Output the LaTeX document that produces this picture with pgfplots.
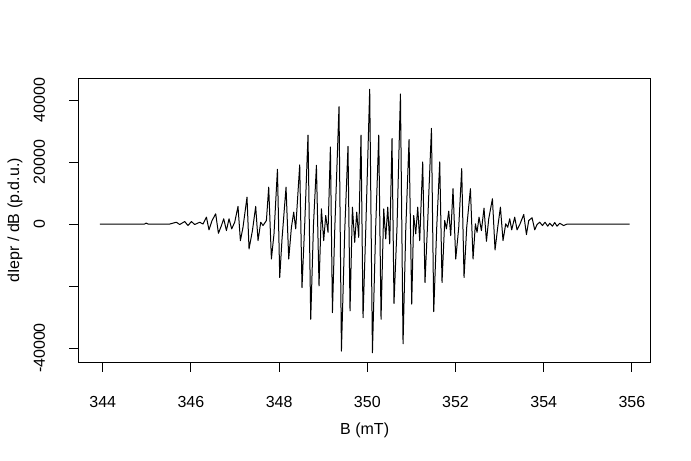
\documentclass[border=0pt]{standalone}
\usepackage{fontspec}
\setmainfont{Liberation Sans}
\usepackage{pgfplots}
\pgfplotsset{compat=1.18}
\begin{document}
\begin{tikzpicture}[font=\fontsize{12pt}{14pt}\selectfont]
\path[use as bounding box] (0,0) rectangle (518.25pt,345pt);
\begin{axis}[
  at={(59pt,73.4pt)}, anchor=south west,
  scale only axis, width=429pt, height=212.55pt,
  xmin=343.455, xmax=356.425, ymin=-44550, ymax=46874,
  axis line style={line width=0.75pt},
  xtick={344,346,...,356}, xticklabels={344,346,348,350,352,354,356},
  ytick={-40000,-20000,0,20000,40000}, yticklabels={-40000,,0,20000,40000},
  scaled ticks=false,
  tick align=outside, tick pos=left,
  major tick length=7.2pt,
  tick style={line width=0.75pt, black},
  tick label style={font=\fontsize{12pt}{14pt}\selectfont},
  label style={font=\fontsize{12pt}{14pt}\selectfont},
  xticklabel style={anchor=center, yshift=-22.4pt, inner sep=0pt},
  yticklabel style={anchor=center, xshift=-22.3pt, rotate=90, inner sep=0pt},
  xlabel={B (mT)}, ylabel={dIepr / dB (p.d.u.)},
  every axis x label/.style={at={(rel axis cs:0.5,0)}, anchor=center, yshift=-51pt},
  every axis y label/.style={at={(rel axis cs:0,0.5)}, xshift=-47.8pt, rotate=90, anchor=center},
]
\addplot[black, line width=0.75pt, line join=round, mark=none] coordinates {
(343.935,0) (344.500,0) (344.950,0) (344.986,320) (345.030,0) (345.400,0)
(345.519,0) (345.671,580) (345.746,-160) (345.859,810) (345.934,-490)
(346.011,810) (346.086,-160) (346.200,580) (346.274,0) (346.352,2200)
(346.410,-1880) (346.479,1130) (346.562,3300) (346.624,-2980) (346.692,-490)
(346.744,1690) (346.805,-2110) (346.864,1690) (346.925,-1560) (346.993,580)
(347.068,5670) (347.122,-5350) (347.181,-1040) (347.272,8680) (347.318,-8040)
(347.395,-2110) (347.469,5670) (347.522,-5350) (347.583,580) (347.635,-490)
(347.712,1130) (347.764,11920) (347.825,-11280) (347.884,-3180) (347.962,17660)
(348.014,-17240) (348.066,-4800) (348.157,11920) (348.218,-11280) (348.279,-1040)
(348.331,3820) (348.376,-1560) (348.467,19100) (348.519,-20480) (348.581,70)
(348.655,28670) (348.717,-30720) (348.780,0) (348.846,18950) (348.905,-19930)
(348.959,4910) (349.011,-5350) (349.057,2750) (349.109,-2660) (349.163,24880)
(349.209,-28580) (349.261,-2110) (349.358,37840) (349.413,-40990) (349.488,-2110)
(349.562,25080) (349.608,-28030) (349.662,5440) (349.714,-5900) (349.760,3820)
(349.805,-4280) (349.857,28670) (349.903,-30230) (349.964,-2110) (350.054,43480)
(350.116,-41540) (350.190,-1040) (350.259,28670) (350.311,-30720) (350.372,4910)
(350.417,-4800) (350.463,5440) (350.508,-6420) (350.560,27590) (350.605,-25630)
(350.673,-1040) (350.751,41960) (350.810,-38620) (350.871,-2110) (350.946,27270)
(351.007,-25860) (351.052,2750) (351.098,-3180) (351.143,5440) (351.188,-5350)
(351.256,20020) (351.308,-18860) (351.370,1130) (351.454,30840) (351.506,-28250)
(351.574,-1040) (351.642,20020) (351.694,-18860) (351.755,1130) (351.794,-1560)
(351.846,4180) (351.891,-3730) (351.943,11400) (352.005,-11280) (352.073,-1040)
(352.140,17880) (352.193,-17240) (352.254,-1040) (352.338,11400) (352.397,-11280)
(352.451,70) (352.488,-2660) (352.533,2200) (352.587,-2110) (352.646,5120)
(352.701,-5570) (352.753,1690) (352.837,8160) (352.896,-8360) (352.957,-1040)
(353.018,5440) (353.077,-5350) (353.138,70) (353.184,-1040) (353.229,1690)
(353.274,-1880) (353.342,2200) (353.395,-1880) (353.456,-200) (353.547,3080)
(353.608,-3400) (353.660,1130) (353.735,2040) (353.796,-1880) (353.848,-160)
(353.909,580) (353.971,-490) (354.029,580) (354.091,-710) (354.136,260)
(354.197,-710) (354.249,490) (354.302,-710) (354.363,260) (354.450,-490)
(354.530,0) (354.600,0) (355.945,0)
};
\end{axis}
\end{tikzpicture}
\end{document}
